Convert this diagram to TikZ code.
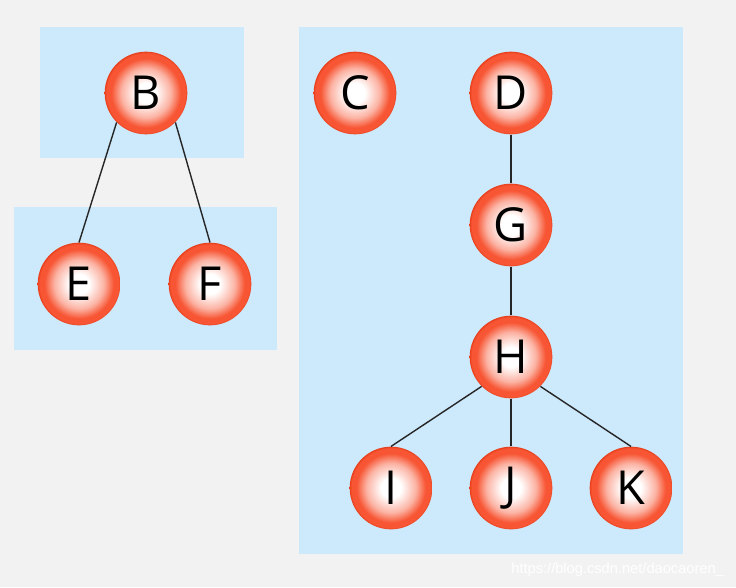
\documentclass[tikz,border=0pt]{standalone}
\usepackage{fontspec}
\setmainfont{Open Sans}
\usetikzlibrary{positioning}
\definecolor{bgGray}{HTML}{F2F2F2}
\definecolor{boxBlue}{HTML}{CDE9FC}
\definecolor{ballRed}{HTML}{F75533}
\definecolor{ballEdge}{HTML}{E8401C}
\pgfdeclareradialshading{ball}{\pgfpoint{0bp}{0bp}}{color(0bp)=(white); color(6bp)=(white); color(15bp)=(ballRed!45!white); color(21bp)=(ballRed); color(24bp)=(ballRed); color(25bp)=(ballEdge); color(50bp)=(ballEdge)}

\begin{document}
\begin{tikzpicture}[x=0.03cm, y=-0.03cm,
    vertex/.style={circle, shading=ball, minimum size=2.48cm, inner sep=0pt,
      font=\fontsize{40}{40}\selectfont},
    group/.style={fill=boxBlue, draw=none},
    edge/.style={draw=black!85, line width=1.2pt}]
    \fill[bgGray] (0,0) rectangle (736,587);
    \useasboundingbox (0,0) rectangle (736,587);

    % the three groups
    \fill[group] (40,27) rectangle (244,158);
    \fill[group] (14,207) rectangle (277,350);
    \fill[group] (299,27) rectangle (683,554);

    % left tree
    \node[vertex] (b) at (146,93) {B};
    \node[vertex] (e) at (79,284) {E};
    \node[vertex] (f) at (210,284) {F};
    \draw[edge] (b.south west) -- (e.north);
    \draw[edge] (b.south east) -- (f.north);

    % right part
    \node[vertex] (c) at (355,93) {C};
    \node[vertex] (d) at (511,93) {D};
    \node[vertex] (g) at (511,225) {G};
    \node[vertex] (h) at (511,357) {H};
    \node[vertex] (i) at (391,488) {I};
    \node[vertex] (j) at (511,488) {J};
    \node[vertex] (k) at (631,488) {K};
    \draw[edge] (d) -- (g);
    \draw[edge] (g) -- (h);
    \draw[edge] (h.south west) -- (i.north);
    \draw[edge] (h) -- (j);
    \draw[edge] (h.south east) -- (k.north);

    \node[text=white, font={\fontspec{Liberation Sans}\fontsize{12.5}{12.5}\selectfont}, anchor=east] (mark) at (728,570) {https://blog.csdn.net/daocaoren\_};
  \end{tikzpicture}
\end{document}
